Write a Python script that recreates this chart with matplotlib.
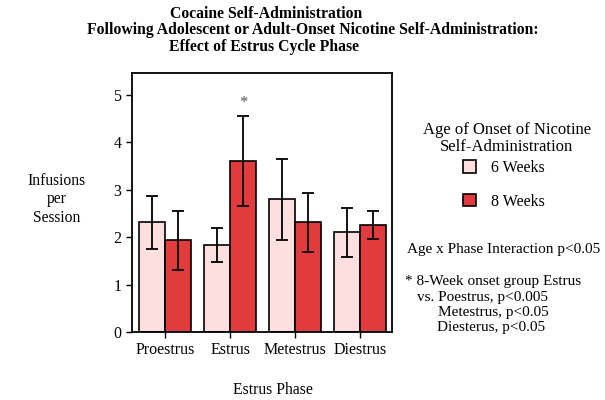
import numpy as np
import matplotlib
matplotlib.use("Agg")
import matplotlib.pyplot as plt

plt.rcParams['font.family'] = ['Liberation Serif', 'DejaVu Serif']

# === Data ===
phases = ["Proestrus", "Estrus", "Metestrus", "Diestrus"]
groups = ["6 Weeks", "8 Weeks"]
mean_6wk = [2.31, 1.84, 2.80, 2.10]
err_6wk = [0.56, 0.36, 0.85, 0.52]
mean_8wk = [1.93, 3.60, 2.31, 2.26]
err_8wk = [0.63, 0.95, 0.63, 0.30]

colors = ["#FDDFDF", "#E23B3D"]

# === Figure ===
fig = plt.figure(figsize=(6.05, 4.0), dpi=100)
ax = fig.add_axes([0.218, 0.17, 0.430, 0.6475])

x = np.arange(len(phases))
w = 0.4
b1 = ax.bar(x - w / 2, mean_6wk, w, color=colors[0], edgecolor='black', linewidth=1.2, label=groups[0])
b2 = ax.bar(x + w / 2, mean_8wk, w, color=colors[1], edgecolor='black', linewidth=1.2, label=groups[1])
ax.errorbar(x - w / 2, mean_6wk, yerr=err_6wk, fmt='none', ecolor='black', elinewidth=1.3, capsize=4, capthick=1.3)
ax.errorbar(x + w / 2, mean_8wk, yerr=err_8wk, fmt='none', ecolor='black', elinewidth=1.3, capsize=4, capthick=1.3)

# significance marker on 8-week estrus
ax.text(x[1] + w / 2, mean_8wk[1] + err_8wk[1] + 0.1, "*", ha='center', va='bottom', fontsize=12, color='#555555')

ax.set_xlim(-0.51, 3.49)
ax.set_ylim(0, 5.46)
ax.set_yticks(range(6))
ax.set_xticks(x)
ax.set_xticklabels(phases)
ax.tick_params(labelsize=11.5, length=4, width=1, direction='out')
for s in ax.spines.values():
    s.set_linewidth(1.3)

# === Text ===
tfs = 11.3
fig.text(0.44, 0.965, "Cocaine Self-Administration", ha='center', va='center', fontsize=tfs, fontweight='bold')
fig.text(0.517, 0.925, "Following Adolescent or Adult-Onset Nicotine Self-Administration:", ha='center', va='center', fontsize=tfs, fontweight='bold')
fig.text(0.437, 0.883, "Effect of Estrus Cycle Phase", ha='center', va='center', fontsize=tfs, fontweight='bold')

fig.text(0.093, 0.502, "Infusions\nper\nSession", ha='center', va='center', fontsize=11.2, linespacing=1.2)
fig.text(0.451, 0.024, "Estrus Phase", ha='center', va='center', fontsize=11.3)

fig.text(0.838, 0.653, "Age of Onset of Nicotine\nSelf-Administration", ha='center', va='center', fontsize=12, linespacing=1.1)
fig.legend(handles=[b1, b2], labels=groups, loc='upper left', bbox_to_anchor=(0.741, 0.636),
           frameon=False, fontsize=11.5, handlelength=0.85, handleheight=0.85, labelspacing=1.1, handletextpad=0.9)

afs = 11
fig.text(0.672, 0.375, "Age x Phase Interaction p<0.05", ha='left', va='center', fontsize=afs)
fig.text(0.669, 0.295, "* 8-Week onset group Estrus", ha='left', va='center', fontsize=afs)
fig.text(0.689, 0.257, "vs. Poestrus, p<0.005", ha='left', va='center', fontsize=afs)
fig.text(0.724, 0.219, "Metestrus, p<0.05", ha='left', va='center', fontsize=afs)
fig.text(0.722, 0.180, "Diesterus, p<0.05", ha='left', va='center', fontsize=afs)

fig.savefig("out.png", dpi=100)
